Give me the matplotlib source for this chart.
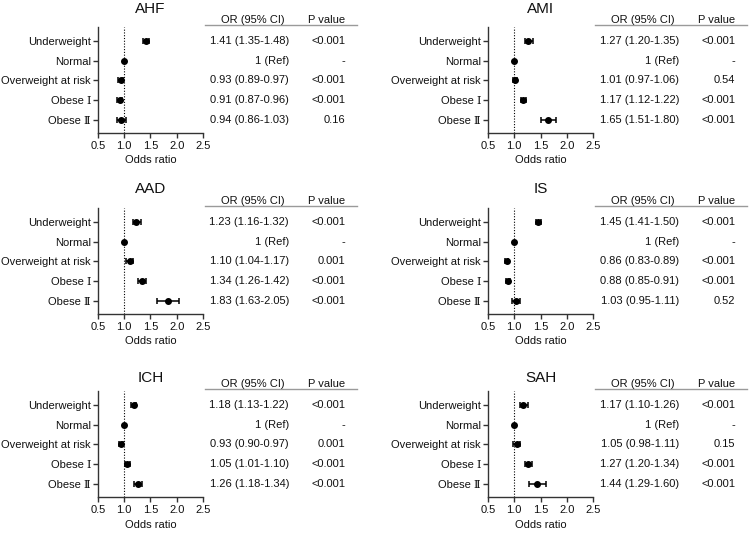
import numpy as np
import matplotlib
matplotlib.use("Agg")
import matplotlib.pyplot as plt
from matplotlib.transforms import blended_transform_factory

plt.rcParams['font.family'] = ['Liberation Sans', 'DejaVu Serif']

categories = ["Underweight", "Normal", "Overweight at risk", "Obese Ⅰ", "Obese Ⅱ"]
panels = ["AHF", "AMI", "AAD", "IS", "ICH", "SAH"]

or_ahf = [1.41, 1.00, 0.93, 0.91, 0.94]
lo_ahf = [1.35, np.nan, 0.89, 0.87, 0.86]
hi_ahf = [1.48, np.nan, 0.97, 0.96, 1.03]
p_ahf = ["<0.001", "-", "<0.001", "<0.001", "0.16"]

or_ami = [1.27, 1.00, 1.01, 1.17, 1.65]
lo_ami = [1.20, np.nan, 0.97, 1.12, 1.51]
hi_ami = [1.35, np.nan, 1.06, 1.22, 1.80]
p_ami = ["<0.001", "-", "0.54", "<0.001", "<0.001"]

or_aad = [1.23, 1.00, 1.10, 1.34, 1.83]
lo_aad = [1.16, np.nan, 1.04, 1.26, 1.63]
hi_aad = [1.32, np.nan, 1.17, 1.42, 2.05]
p_aad = ["<0.001", "-", "0.001", "<0.001", "<0.001"]

or_is = [1.45, 1.00, 0.86, 0.88, 1.03]
lo_is = [1.41, np.nan, 0.83, 0.85, 0.95]
hi_is = [1.50, np.nan, 0.89, 0.91, 1.11]
p_is = ["<0.001", "-", "<0.001", "<0.001", "0.52"]

or_ich = [1.18, 1.00, 0.93, 1.05, 1.26]
lo_ich = [1.13, np.nan, 0.90, 1.01, 1.18]
hi_ich = [1.22, np.nan, 0.97, 1.10, 1.34]
p_ich = ["<0.001", "-", "0.001", "<0.001", "<0.001"]

or_sah = [1.17, 1.00, 1.05, 1.27, 1.44]
lo_sah = [1.10, np.nan, 0.98, 1.20, 1.29]
hi_sah = [1.26, np.nan, 1.11, 1.34, 1.60]
p_sah = ["<0.001", "-", "0.15", "<0.001", "<0.001"]

data = {
    "AHF": (or_ahf, lo_ahf, hi_ahf, p_ahf),
    "AMI": (or_ami, lo_ami, hi_ami, p_ami),
    "AAD": (or_aad, lo_aad, hi_aad, p_aad),
    "IS": (or_is, lo_is, hi_is, p_is),
    "ICH": (or_ich, lo_ich, hi_ich, p_ich),
    "SAH": (or_sah, lo_sah, hi_sah, p_sah),
}

x_ticks = [0.5, 1.0, 1.5, 2.0, 2.5]

W, H = 749, 533
fig = plt.figure(figsize=(W / 100, H / 100), dpi=100)

col_left = [98, 488]
ax_w = 105
row_top = [27, 208, 391]
ax_h = 106
title_off = [14, 15, 9]

TXT = "#111111"
SPINE = "#333333"

def fx(px):
    return px / W

def fy(py):
    return 1 - py / H

for i, name in enumerate(panels):
    r, c = divmod(i, 2)
    left = col_left[c]
    top = row_top[r]
    ax = fig.add_axes([fx(left), fy(top + ax_h), fx(ax_w), ax_h / H])
    ors, los, his, ps = data[name]
    ors = np.array(ors); los = np.array(los); his = np.array(his)
    y = np.arange(1, len(categories) + 1)
    xerr = np.vstack([ors - los, his - ors])
    ax.errorbar(ors, y, xerr=xerr, fmt='o', color='black', ms=4,
                elinewidth=1.1, capsize=2, capthick=1.1, zorder=3)
    ax.axvline(1.0, color='black', linestyle=(0, (1, 1.5)), linewidth=0.8, zorder=1)
    ax.set_xlim(0.5, 2.5)
    ax.set_ylim(5.65, 0.3)
    ax.set_xticks(x_ticks)
    ax.set_xticklabels([f"{t:.1f}" for t in x_ticks])
    ax.set_yticks(y)
    ax.set_yticklabels(categories)
    for s in ['top', 'right']:
        ax.spines[s].set_visible(False)
    for s in ['left', 'bottom']:
        ax.spines[s].set_color(SPINE)
        ax.spines[s].set_linewidth(1.0)
    ax.tick_params(axis='both', colors=SPINE, labelcolor=TXT, labelsize=8,
                   length=3.5, width=1.0, direction='out')
    ax.tick_params(axis='y', pad=1.5)
    ax.tick_params(axis='x', pad=2)
    ax.set_xlabel("Odds ratio", fontsize=8, color=TXT, labelpad=3.5)
    fig.text(fx(left + ax_w / 2), fy(top - title_off[r]), name, ha='center',
             va='baseline', fontsize=11, color=TXT)

    # table
    tr = blended_transform_factory(fig.transFigure, ax.transData)
    fig.add_artist(plt.Line2D([fx(left + 107), fx(left + 259)],
                              [fy(top - 2), fy(top - 2)],
                              color='#9a9a9a', linewidth=1.0))
    fig.text(fx(left + 155), fy(top - 7), "OR (95% CI)", ha='center',
             va='center', fontsize=8, color=TXT)
    fig.text(fx(left + 229), fy(top - 7), "P value", ha='center',
             va='center', fontsize=8, color=TXT)
    for k in range(len(categories)):
        if np.isnan(los[k]):
            s = f"{ors[k]:g} (Ref)"
        else:
            s = f"{ors[k]:.2f} ({los[k]:.2f}-{his[k]:.2f})"
        ax.text(fx(left + 191), y[k], s, transform=tr, ha='right',
                va='center', fontsize=8, color=TXT)
        ax.text(fx(left + 247), y[k], ps[k], transform=tr, ha='right',
                va='center', fontsize=8, color=TXT)

fig.savefig("out.png", dpi=100)
